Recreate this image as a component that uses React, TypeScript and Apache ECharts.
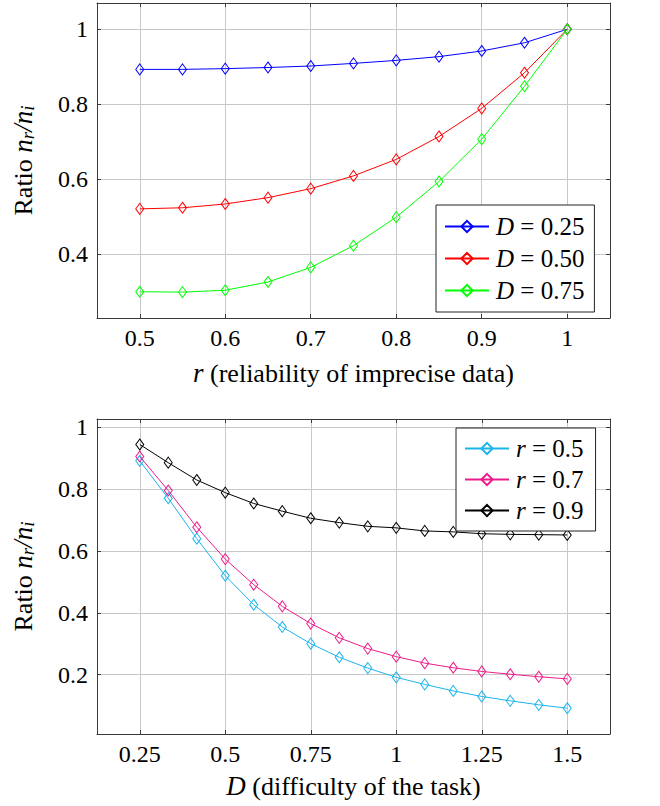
import React, { useEffect, useRef } from "react";
import * as echarts from "echarts";

// ---------- data ----------
const rValues = [0.5, 0.55, 0.6, 0.65, 0.7, 0.75, 0.8, 0.85, 0.9, 0.95, 1.0];
const ratioD025 = [0.893, 0.893, 0.895, 0.898, 0.902, 0.909, 0.917, 0.927, 0.942, 0.964, 1.0];
const ratioD050 = [0.521, 0.524, 0.534, 0.551, 0.575, 0.609, 0.653, 0.714, 0.789, 0.884, 1.0];
const ratioD075 = [0.3, 0.299, 0.304, 0.326, 0.365, 0.423, 0.499, 0.594, 0.707, 0.848, 1.0];

const dValues = [
  0.25, 0.3333, 0.4167, 0.5, 0.5833, 0.6667, 0.75, 0.8333, 0.9167, 1.0, 1.0833, 1.1667, 1.25,
  1.3333, 1.4167, 1.5,
];
const ratioR05 = [
  0.892, 0.771, 0.64, 0.52, 0.426, 0.354, 0.3, 0.256, 0.221, 0.191, 0.168, 0.147, 0.129, 0.115,
  0.102, 0.091,
];
const ratioR07 = [
  0.906, 0.796, 0.677, 0.574, 0.491, 0.421, 0.365, 0.319, 0.284, 0.258, 0.237, 0.222, 0.21, 0.201,
  0.193, 0.186,
];
const ratioR09 = [
  0.945, 0.886, 0.83, 0.789, 0.754, 0.729, 0.706, 0.692, 0.68, 0.675, 0.665, 0.662, 0.656, 0.654,
  0.653, 0.652,
];

const topNames = ["D = 0.25", "D = 0.50", "D = 0.75"];
const bottomNames = ["r = 0.5", "r = 0.7", "r = 0.9"];
const topColors = ["#0000ff", "#ff0000", "#00ff00"];
const bottomColors = ["#1cb4ec", "#ec1c8c", "#000000"];

const topXTicks = [0.5, 0.6, 0.7, 0.8, 0.9, 1];
const topYTicks = [0.4, 0.6, 0.8, 1];
const bottomXTicks = [0.25, 0.5, 0.75, 1, 1.25, 1.5];
const bottomYTicks = [0.2, 0.4, 0.6, 0.8, 1];

// ---------- styling ----------
const SERIF = "Liberation Serif, Times New Roman, serif";
const AXIS_COLOR = "#3a3a3a";
const GRID_COLOR = "#c8c8c8";

const richText = {
  a: { fontFamily: SERIF, fontSize: 26, color: "#000", lineHeight: 28 },
  i: { fontFamily: SERIF, fontSize: 27, fontStyle: "italic", color: "#000", lineHeight: 28 },
  s: {
    fontFamily: SERIF,
    fontSize: 19,
    fontStyle: "italic",
    color: "#000",
    lineHeight: 16,
    verticalAlign: "bottom",
  },
};

function zip(xs: number[], ys: number[]) {
  return xs.map((x, k) => [x, ys[k]]);
}

function mainX(gridIndex: number, min: number, max: number, ticks: number[], name: string, gap: number) {
  return {
    type: "value",
    gridIndex,
    position: "bottom",
    min,
    max,
    axisLine: { show: true, onZero: false, lineStyle: { color: AXIS_COLOR, width: 1 } },
    axisTick: { show: true, inside: true, length: 4, customValues: ticks, lineStyle: { color: AXIS_COLOR } },
    axisLabel: {
      show: true,
      customValues: ticks,
      margin: 8,
      fontFamily: SERIF,
      fontSize: 24,
      color: "#000",
    },
    splitLine: { show: true, lineStyle: { color: GRID_COLOR, width: 1 } },
    name,
    nameLocation: "middle",
    nameGap: gap,
    nameTextStyle: { fontFamily: SERIF, rich: richText },
  };
}

function sideX(gridIndex: number, min: number, max: number, ticks: number[]) {
  return {
    type: "value",
    gridIndex,
    position: "top",
    min,
    max,
    axisLine: { show: true, onZero: false, lineStyle: { color: AXIS_COLOR, width: 1 } },
    axisTick: { show: true, inside: true, length: 4, customValues: ticks, lineStyle: { color: AXIS_COLOR } },
    axisLabel: { show: false },
    splitLine: { show: false },
  };
}

function mainY(gridIndex: number, min: number, max: number, ticks: number[]) {
  return {
    type: "value",
    gridIndex,
    position: "left",
    min,
    max,
    axisLine: { show: true, onZero: false, lineStyle: { color: AXIS_COLOR, width: 1 } },
    axisTick: { show: true, inside: true, length: 4, customValues: ticks, lineStyle: { color: AXIS_COLOR } },
    axisLabel: {
      show: true,
      customValues: ticks,
      margin: 9,
      fontFamily: SERIF,
      fontSize: 24,
      color: "#000",
    },
    splitLine: { show: true, lineStyle: { color: GRID_COLOR, width: 1 } },
    name: "{a|Ratio }{i|n}{s|r}{i|/n}{s|i}",
    nameLocation: "middle",
    nameRotate: 90,
    nameGap: 60,
    nameTextStyle: { fontFamily: SERIF, rich: richText },
  };
}

function sideY(gridIndex: number, min: number, max: number, ticks: number[]) {
  return {
    type: "value",
    gridIndex,
    position: "right",
    min,
    max,
    axisLine: { show: true, onZero: false, lineStyle: { color: AXIS_COLOR, width: 1 } },
    axisTick: { show: true, inside: true, length: 4, customValues: ticks, lineStyle: { color: AXIS_COLOR } },
    axisLabel: { show: false },
    splitLine: { show: false },
  };
}

function lineSeries(name: string, color: string, data: number[][], axisIndex: number) {
  return {
    type: "line",
    name,
    xAxisIndex: axisIndex,
    yAxisIndex: axisIndex,
    data,
    symbol: "diamond",
    symbolSize: [8, 11],
    showAllSymbol: true,
    lineStyle: { color, width: 1 },
    itemStyle: { color: "rgba(255,255,255,0)", borderColor: color, borderWidth: 1 },
    emphasis: { disabled: true },
  };
}

const legendFormatter = (name: string) => "{i|" + name.charAt(0) + "}{t|" + name.slice(1) + "}";
const legendRich = {
  i: { fontFamily: SERIF, fontSize: 25, fontStyle: "italic", color: "#000" },
  t: { fontFamily: SERIF, fontSize: 25, color: "#000" },
};

export default function App() {
  const ref = useRef<HTMLDivElement>(null);
  useEffect(() => {
    if (!ref.current) return;
    const chart = echarts.init(ref.current, null, { renderer: "svg" });
    chart.setOption({
      animation: false,
      backgroundColor: "#ffffff",
      textStyle: { fontFamily: SERIF },
      grid: [
        { left: 97, top: 3, width: 513, height: 315, containLabel: false },
        { left: 97, top: 419, width: 513, height: 315, containLabel: false },
      ],
      xAxis: [
        mainX(0, 0.45, 1.05, topXTicks, "{i|r}{a| (reliability of imprecise data)}", 41),
        mainX(1, 0.125, 1.625, bottomXTicks, "{i|D}{a| (difficulty of the task)}", 38),
        sideX(0, 0.45, 1.05, topXTicks),
        sideX(1, 0.125, 1.625, bottomXTicks),
      ],
      yAxis: [
        mainY(0, 0.23, 1.07, topYTicks),
        mainY(1, 0.0075, 1.0275, bottomYTicks),
        sideY(0, 0.23, 1.07, topYTicks),
        sideY(1, 0.0075, 1.0275, bottomYTicks),
      ],
      legend: [
        {
          data: topNames,
          orient: "vertical",
          left: 436,
          top: 205,
          padding: [9, 10, 9, 8],
          itemGap: 7,
          itemWidth: 44,
          itemHeight: 14,
          borderColor: "#222",
          borderWidth: 1,
          backgroundColor: "#fff",
          selectedMode: false,
          formatter: legendFormatter,
          textStyle: { fontFamily: SERIF, rich: legendRich, lineHeight: 24, padding: [0, 0, 0, 2] },
        },
        {
          data: bottomNames,
          orient: "vertical",
          left: 456,
          top: 428,
          padding: [8, 12, 8, 8],
          itemGap: 6,
          itemWidth: 44,
          itemHeight: 14,
          borderColor: "#222",
          borderWidth: 1,
          backgroundColor: "#fff",
          selectedMode: false,
          formatter: legendFormatter,
          textStyle: { fontFamily: SERIF, rich: legendRich, lineHeight: 24, padding: [0, 0, 0, 2] },
        },
      ],
      series: [
        lineSeries(topNames[0], topColors[0], zip(rValues, ratioD025), 0),
        lineSeries(topNames[1], topColors[1], zip(rValues, ratioD050), 0),
        lineSeries(topNames[2], topColors[2], zip(rValues, ratioD075), 0),
        lineSeries(bottomNames[0], bottomColors[0], zip(dValues, ratioR05), 1),
        lineSeries(bottomNames[1], bottomColors[1], zip(dValues, ratioR07), 1),
        lineSeries(bottomNames[2], bottomColors[2], zip(dValues, ratioR09), 1),
      ],
    });
    return () => chart.dispose();
  }, []);
  return (
    <div
      ref={ref}
      style={{ position: "fixed", left: 0, top: 0, width: 660, height: 806, background: "#fff" }}
    />
  );
}
